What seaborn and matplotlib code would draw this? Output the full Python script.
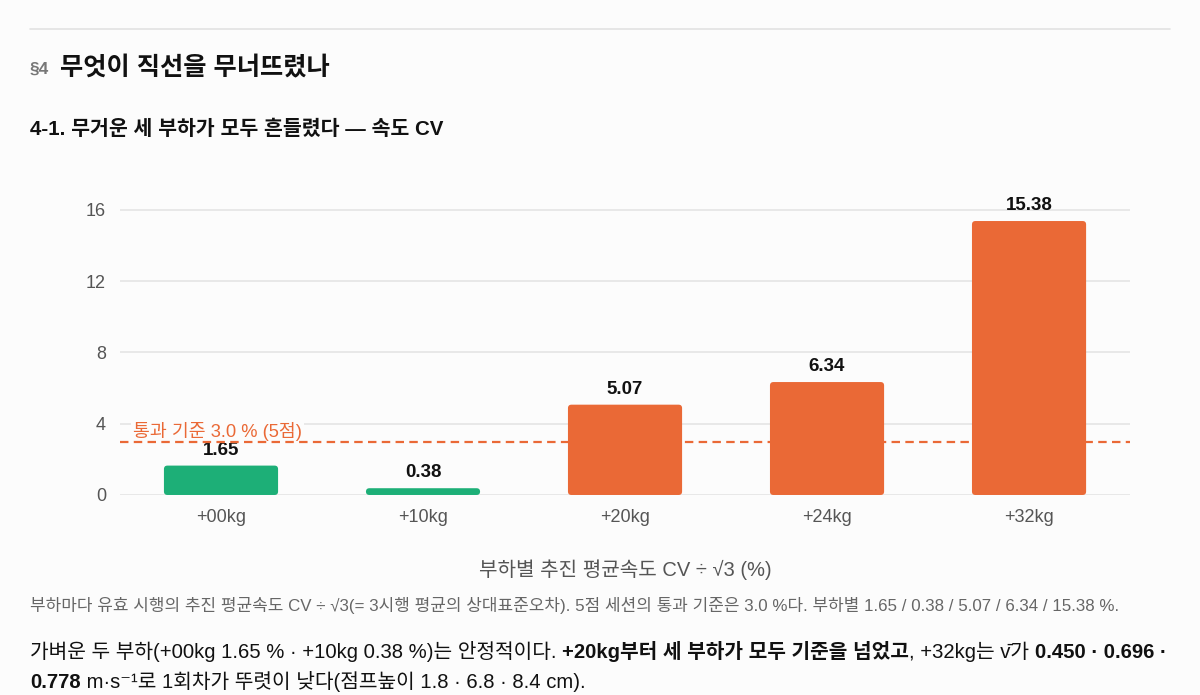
import matplotlib
matplotlib.use("Agg")
import matplotlib.pyplot as plt
from matplotlib.patches import FancyBboxPatch
from matplotlib.lines import Line2D
import seaborn as sns
import pandas as pd

# ---- data ----
categories = ["+00kg", "+10kg", "+20kg", "+24kg", "+32kg"]
cv_values = [1.65, 0.38, 5.07, 6.34, 15.38]
threshold = 3.0
yticks = [0, 4, 8, 12, 16]

GREEN = "#1DAF77"
ORANGE = "#EA6936"
BG = "#FCFCFC"

sns.set_style("white")
plt.rcParams['font.family'] = ['Liberation Sans', 'Noto Sans CJK KR', 'DejaVu Sans']

fig = plt.figure(figsize=(12, 6.95), dpi=100, facecolor=BG)
ax = fig.add_axes([0.1, 0.2878, 0.8417, 0.4357], facecolor=BG)

df = pd.DataFrame({"load": categories, "cv": cv_values})
colors = {c: (GREEN if v < threshold else ORANGE) for c, v in zip(categories, cv_values)}
sns.barplot(data=df, x="load", y="cv", hue="load", palette=colors, width=0.565,
            legend=False, ax=ax, saturation=1, zorder=2)

ax.set_ylim(0, 17)
ax.set_xlim(-0.5, len(categories) - 0.5)
ax.set_yticks(yticks)
ax.yaxis.grid(True, color="#e4e4e4", lw=1.2)
ax.xaxis.grid(False)
ax.set_axisbelow(True)
for s in ax.spines.values():
    s.set_visible(False)
ax.tick_params(axis="both", length=0, labelsize=13, labelcolor="#555555")
ax.tick_params(axis="y", pad=10)
ax.tick_params(axis="x", pad=10)
ax.set_ylabel("")
ax.set_xlabel("부하별 추진 평균속도 CV ÷ √3 (%)", fontsize=14.5, color="#555555", labelpad=24)

# value labels
for cont in ax.containers:
    ax.bar_label(cont, fmt="%.2f", padding=5, fontsize=13.5, fontweight="bold", color="#111111")

# rounded bars (replace rectangles with rounded ones of the same geometry)
px_x = 1010 / 5.0
px_y = 285 / 16.0
r_px = 3.5
for cont in ax.containers:
    for p in list(cont.patches):
        x, y = p.get_x(), p.get_y()
        w, h = p.get_width(), p.get_height()
        fb = FancyBboxPatch((x, y), w, h,
                            boxstyle=f"round,pad=0,rounding_size={r_px/px_x}",
                            mutation_aspect=px_x / px_y,
                            facecolor=p.get_facecolor(), edgecolor="none", zorder=2)
        ax.add_patch(fb)
        p.set_visible(False)

# threshold line
ax.axhline(threshold, color=ORANGE, lw=1.6, ls=(0, (3.8, 2.4)), zorder=4)
ax.text(-0.435, threshold + 0.26, f"통과 기준 {threshold:.1f} % (5점)", color=ORANGE,
        fontsize=13.2, va="baseline", ha="left", zorder=3,
        bbox=dict(facecolor=BG, edgecolor="none", pad=1.5))

# ---- header ----
fig.add_artist(Line2D([30/1200, 1170/1200], [1-29/695, 1-29/695], color="#e2e2e2", lw=1.2))
fig.text(30/1200, 1-69/695, "§4", fontsize=12.5, fontweight="bold", color="#777777", va="center")
fig.text(60/1200, 1-68/695, "무엇이 직선을 무너뜨렸나", fontsize=18.2, fontweight="bold",
         color="#111111", va="center")
fig.text(30/1200, 1-129/695, "4-1. 무거운 세 부하가 모두 흔들렸다 — 속도 CV", fontsize=14.8,
         fontweight="bold", color="#111111", va="center")

# ---- caption ----
fig.text(30/1200, 1-605/695,
         "부하마다 유효 시행의 추진 평균속도 CV ÷ √3(= 3시행 평균의 상대표준오차). 5점 세션의 통과 기준은 3.0 %다. "
         "부하별 1.65 / 0.38 / 5.07 / 6.34 / 15.38 %.",
         fontsize=12.2, color="#666666", va="center")

def rich(x, y, parts, size=14.6, color="#111111"):
    t = fig.text(x, y, parts[0][0], fontsize=size, color=color,
                 fontweight="bold" if parts[0][1] else "normal", va="center")
    for s, b in parts[1:]:
        t = ax.annotate(s, xy=(1, 0), xycoords=t, va="bottom", ha="left", fontsize=size,
                        color=color, fontweight="bold" if b else "normal",
                        annotation_clip=False)
    return t

rich(30/1200, 1-651/695, [
    ("가벼운 두 부하(+00kg 1.65 % · +10kg 0.38 %)는 안정적이다. ", False),
    ("+20kg부터 세 부하가 모두 기준을 넘었고", True),
    (", +32kg는 v̄가 ", False),
    ("0.450 · 0.696 ·", True),
])
rich(30/1200, 1-683/695, [
    ("0.778", True),
    (" m·s⁻¹로 1회차가 뚜렷이 낮다(점프높이 1.8 · 6.8 · 8.4 cm).", False),
])

fig.savefig("out.png", dpi=100, facecolor=BG)
